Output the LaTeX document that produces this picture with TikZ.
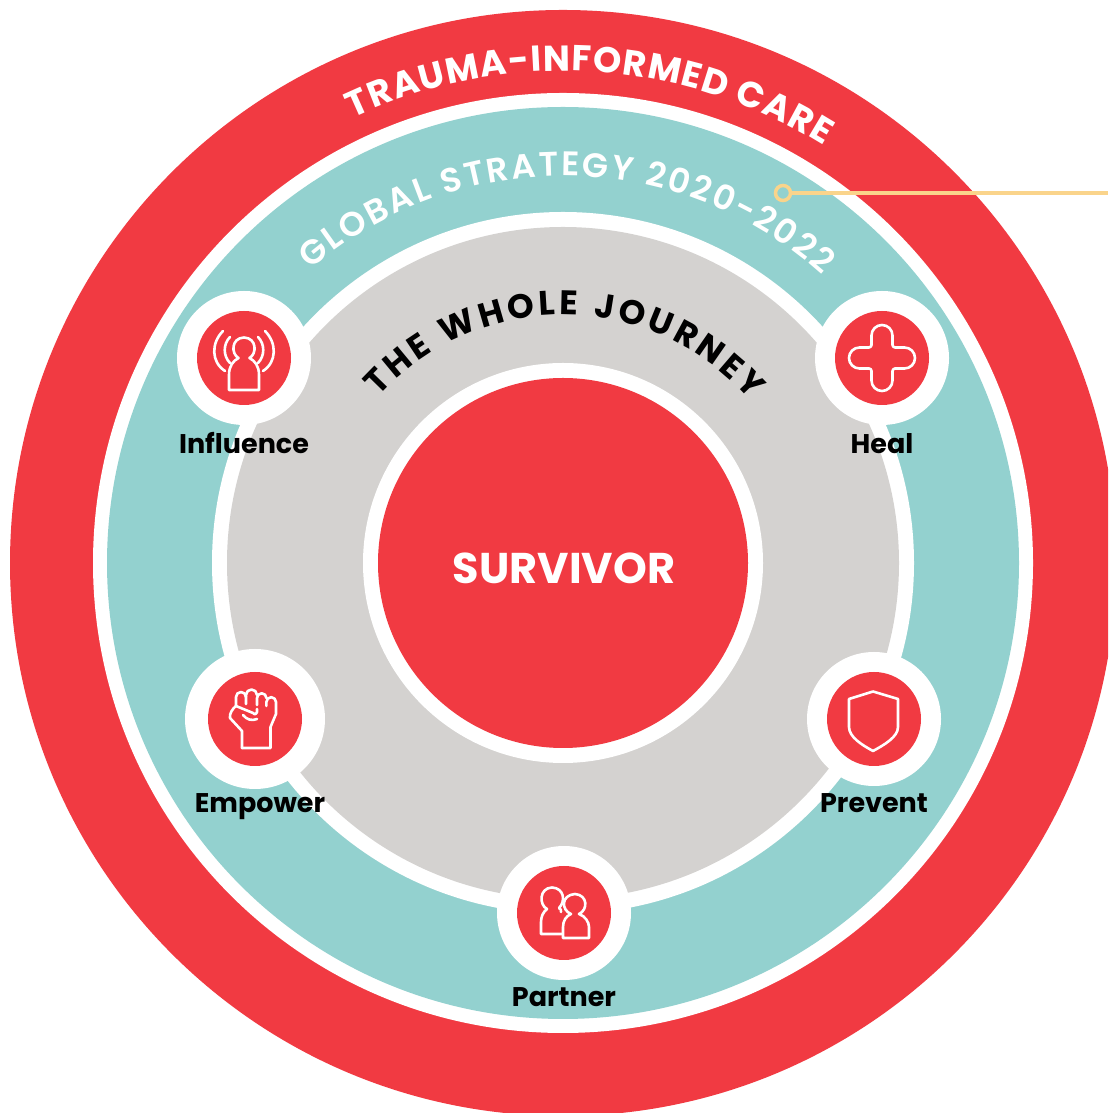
\documentclass[tikz,border=0pt]{standalone}
\usepackage{fontspec}
\usetikzlibrary{decorations.text}
\newfontfamily\popf{Poppins}
\newfontfamily\popsb{Poppins SemiBold}
\definecolor{redc}{HTML}{F13A42}
\definecolor{tealc}{HTML}{93D1CF}
\definecolor{greyc}{HTML}{D4D2D0}
\definecolor{yelc}{HTML}{FAD48B}
\tikzset{
  disc/.style={circle,inner sep=0pt,outer sep=0pt,minimum size=#1},
  iconhalo/.style={disc=134pt,fill=white},
  iconred/.style={disc=94pt,fill=redc},
  iconline/.style={draw=white,line width=2.6pt,line join=round,line cap=round},
  lab/.style={anchor=base,font=\popf\bfseries\fontsize{27}{27}\selectfont,text=black,inner sep=0pt},
}
\newcommand{\ringlabel}[7]{%
  \path[decorate,decoration={text along path,text align=fit to path,
    text={|#6\fontsize{#5}{#5}\selectfont\color{#7}|#1}}]
    (C) ++(#2:#4pt) arc (#2:#3:#4pt);}
\begin{document}
\begin{tikzpicture}[x=1pt,y=1pt]
\useasboundingbox (0,0) rectangle (1108,1113);
\clip (0,0) rectangle (1108,1113);
\fill[white] (0,0) rectangle (1108,1113);
\coordinate (C) at (563,550);
\node[disc=1106pt,fill=redc] (outer) at (C) {};
\node[disc=940pt,fill=white] (outerw) at (C) {};
\node[disc=912pt,fill=tealc] (teal) at (C) {};
\node[disc=702pt,fill=white] (tealw) at (C) {};
\node[disc=672pt,fill=greyc] (grey) at (C) {};
\node[disc=400pt,fill=white] (corew) at (C) {};
\node[disc=370pt,fill=redc] (core) at (C) {};
\node[anchor=base,font=\popf\bfseries\fontsize{43}{43}\selectfont,text=white,inner sep=0pt] (survivor) at (564,529) {SURVIVOR};

\ringlabel{TRAUMA-INFORMED CARE}{115.3}{58}{492}{36}{\popf\bfseries}{white}
\ringlabel{GLOBAL STRATEGY 2020-2022}{130.7}{48}{387}{34}{\popsb}{white}
\ringlabel{THE WHOLE JOURNEY}{138}{41}{248}{34}{\popf\bfseries}{black}

% leader
\coordinate (leaderend) at (1108,920);
\node[circle,draw=yelc,line width=3.5pt,fill=none,minimum size=15pt,inner sep=0pt] (dot) at (783,920) {};
\draw[yelc,line width=3.5pt] (dot) -- (leaderend);

% halos and discs
\node[iconhalo] (inflH) at (244,755) {};
\node[iconred] (infl) at (244,755) {};
\node[iconhalo] (healH) at (882,755) {};
\node[iconred] (heal) at (882,755) {};
\node[iconhalo,minimum size=140pt] (empH) at (255,394) {};
\node[iconred] (emp) at (255,394) {};
\node[iconhalo] (prevH) at (874,394) {};
\node[iconred] (prev) at (874,394) {};
\node[iconhalo] (partH) at (564,200) {};
\node[iconred] (part) at (564,200) {};

% influence icon
\begin{scope}[shift={(infl.center)}]
  \draw[iconline] (-5.5,0) .. controls (-13,4) and (-13,20) .. (0,20.5)
     .. controls (13,20) and (13,4) .. (5.5,0)
     .. controls (11,-3) and (15,-8) .. (15,-17) -- (15,-32) -- (-15,-32) -- (-15,-17)
     .. controls (-15,-8) and (-11,-3) .. (-5.5,0) -- cycle;
  \draw[iconline] (-14,21) .. controls (-21,14) and (-21,2) .. (-14,-5);
  \draw[iconline] (14,21) .. controls (21,14) and (21,2) .. (14,-5);
  \draw[iconline] (-21,27) .. controls (-33,15) and (-33,-4) .. (-19,-13);
  \draw[iconline] (21,27) .. controls (33,15) and (33,-4) .. (19,-13);
\end{scope}

% heal icon
\begin{scope}[shift={(heal.center)}]
  \draw[iconline] (-10.5,22.5) arc (180:0:10.5) -- (10.5,13) arc (180:270:2.5) -- (22.5,10.5)
     arc (90:-90:10.5) -- (13,-10.5) arc (90:180:2.5) -- (10.5,-22.5) arc (0:-180:10.5)
     -- (-10.5,-13) arc (0:90:2.5) -- (-22.5,-10.5) arc (270:90:10.5) -- (-13,10.5)
     arc (-90:0:2.5) -- cycle;
\end{scope}

% empower icon
\begin{scope}[shift={(emp.center)}]
  \draw[iconline] (-13,-29) -- (15.5,-29) -- (15.5,-8) -- (21,5) -- (21,17)
     arc (0:180:4.8) -- (11.4,13);
  \draw[iconline] (11.4,21) arc (0:180:4.7) -- (2,14);
  \draw[iconline] (2,24) arc (0:180:5.5) -- (-9,15);
  \draw[iconline] (-9,22) arc (0:180:5) -- (-19,13);
  \draw[iconline] (-13,-29) -- (-13,-12) -- (-25,1) .. controls (-26,5) and (-22,11) .. (-19,13)
     -- (-2,6) .. controls (0,3) and (3,6) .. (2,10);
  \draw[iconline] (-12,4) .. controls (-8,-1) and (-3,-2) .. (2,0);
\end{scope}

% prevent icon
\begin{scope}[shift={(prev.center)}]
  \draw[iconline] (-1,27.5) -- (24,20) -- (24,-8) .. controls (24,-18) and (10,-26) .. (-1,-32)
     .. controls (-12,-26) and (-25,-18) .. (-25,-8) -- (-25,20) -- cycle;
\end{scope}

% partner icon
\begin{scope}[shift={(part.center)}]
  \draw[iconline] (-3,1) .. controls (-2,3) and (-4,4) .. (-5,5)
     .. controls (2,12) and (0,25) .. (-12,25.5)
     .. controls (-25,25) and (-25,8) .. (-17,4)
     .. controls (-21,1) and (-23,-4) .. (-23,-9) -- (-23,-21) -- (-2,-21);
  \draw[iconline] (7,-1) .. controls (-3,3) and (-3,18) .. (11,19)
     .. controls (24,18) and (24,3) .. (15,-1)
     .. controls (21,-3) and (25,-9) .. (25,-14) -- (25,-25) -- (-1,-25) -- (-1,-14)
     .. controls (-1,-8) and (2,-3) .. (7,-1) -- cycle;
\end{scope}

\node[lab] (linfl) at (244,659) {Influence};
\node[lab] (lheal) at (882,659) {Heal};
\node[lab] (lemp) at (260,300) {Empower};
\node[lab] (lprev) at (874,300) {Prevent};
\node[lab] (lpart) at (564,106) {Partner};
\end{tikzpicture}
\end{document}
